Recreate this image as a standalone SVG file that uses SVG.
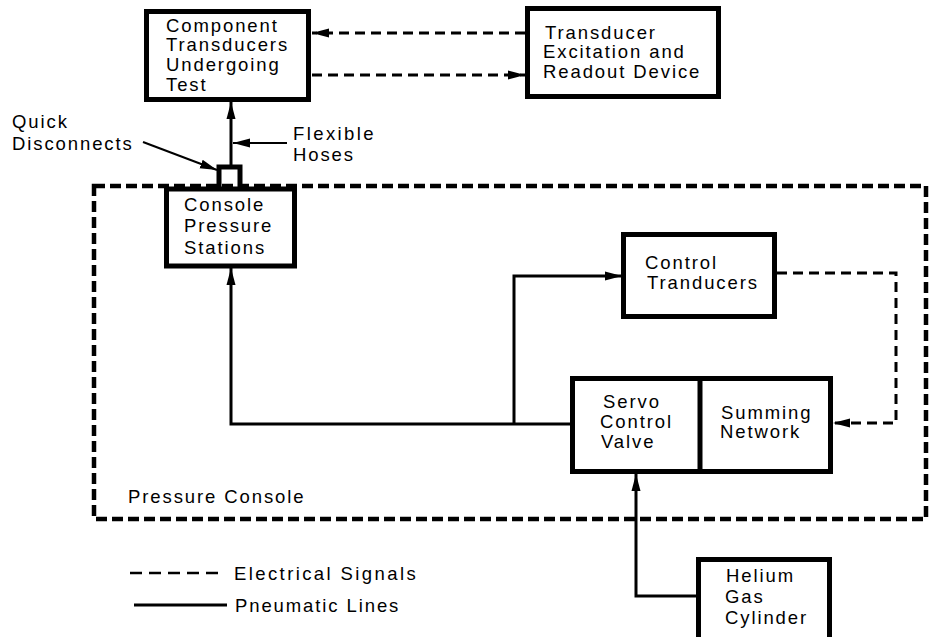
<svg xmlns="http://www.w3.org/2000/svg" width="929" height="637" viewBox="0 0 929 637">
<style>
  .box { fill: #fff; stroke: #000; stroke-width: 5; }
  .t { font-family: "Liberation Sans", Arial, Helvetica, sans-serif; font-size: 18.5px; letter-spacing: 1.9px; fill: #000; }
  .pn { fill: none; stroke: #000; stroke-width: 3; }
  .el { fill: none; stroke: #000; stroke-width: 3; stroke-dasharray: 10 6; }
  .console { fill: none; stroke: #000; stroke-width: 4.5; stroke-dasharray: 11 5; }
</style>
<defs>
  <marker id="arr" markerUnits="userSpaceOnUse" markerWidth="18" markerHeight="10" refX="17" refY="5" orient="auto">
    <path d="M0,0.5 L17,5 L0,9.5 z" fill="#000"/>
  </marker>
</defs>
<rect width="929" height="637" fill="#fff"/>

<g id="pressure-console">
  <rect class="console" x="94" y="186" width="832" height="333"/>
  <text class="t" x="128" y="503">Pressure Console</text>
</g>

<g id="connectors">
  <!-- electrical -->
  <path class="el" d="M525,33 H312" marker-end="url(#arr)"/>
  <path class="el" d="M312,75 H525" marker-end="url(#arr)"/>
  <path class="el" d="M777,273 H896 V423 H833" marker-end="url(#arr)"/>
  <!-- pneumatic -->
  <path class="pn" d="M231,166 V102" marker-end="url(#arr)"/>
  <path class="pn" d="M570,424 H231 V268" marker-end="url(#arr)"/>
  <path class="pn" d="M514,424 V276 H622" marker-end="url(#arr)"/>
  <path class="pn" d="M697,596 H636 V474" marker-end="url(#arr)"/>
  <!-- label pointers -->
  <path fill="none" stroke="#000" stroke-width="2" d="M287,143 H233" marker-end="url(#arr)"/>
  <path fill="none" stroke="#000" stroke-width="2" d="M143,142 L217,170" marker-end="url(#arr)"/>
</g>

<g id="quick-disconnect">
  <path fill="none" stroke="#000" stroke-width="5" d="M219,187 V167 H240 V187"/>
  <text class="t" x="12" y="128">Quick</text>
  <text class="t" x="12" y="150">Disconnects</text>
</g>

<g id="flexible-hoses">
  <text class="t" x="293" y="140" style="letter-spacing:2.4px">Flexible</text>
  <text class="t" x="293" y="161">Hoses</text>
</g>

<g id="component-transducers">
  <rect class="box" x="146.5" y="11.5" width="162" height="88"/>
  <text class="t" x="166" y="32">Component</text>
  <text class="t" x="166" y="51">Transducers</text>
  <text class="t" x="166" y="71">Undergoing</text>
  <text class="t" x="166" y="91">Test</text>
</g>

<g id="excitation-readout">
  <rect class="box" x="527.5" y="8.5" width="191" height="88"/>
  <text class="t" x="545" y="39">Transducer</text>
  <text class="t" x="543" y="58">Excitation and</text>
  <text class="t" x="543" y="78">Readout Device</text>
</g>

<g id="console-pressure-stations">
  <rect class="box" x="166.5" y="189" width="128" height="77"/>
  <text class="t" x="184" y="211">Console</text>
  <text class="t" x="184" y="232">Pressure</text>
  <text class="t" x="184" y="254">Stations</text>
</g>

<g id="control-transducers">
  <rect class="box" x="623.5" y="234.5" width="151" height="82"/>
  <text class="t" x="645" y="269">Control</text>
  <text class="t" x="647" y="289">Tranducers</text>
</g>

<g id="servo-summing">
  <rect class="box" x="572.5" y="378.5" width="258" height="93"/>
  <line x1="700" y1="378" x2="700" y2="472" stroke="#000" stroke-width="5"/>
  <text class="t" x="603" y="408">Servo</text>
  <text class="t" x="600" y="428">Control</text>
  <text class="t" x="601" y="448">Valve</text>
  <text class="t" x="721" y="419">Summing</text>
  <text class="t" x="720" y="438">Network</text>
</g>

<g id="helium-cylinder">
  <rect class="box" x="698.5" y="559.5" width="131" height="82"/>
  <text class="t" x="726" y="582">Helium</text>
  <text class="t" x="725" y="603">Gas</text>
  <text class="t" x="725" y="624">Cylinder</text>
</g>

<g id="legend">
  <line x1="130" y1="573" x2="222" y2="573" stroke="#000" stroke-width="2.5" stroke-dasharray="12 7"/>
  <text class="t" x="234" y="580" style="letter-spacing:2.4px">Electrical Signals</text>
  <line x1="134" y1="605" x2="227" y2="605" stroke="#000" stroke-width="3"/>
  <text class="t" x="235" y="612">Pneumatic Lines</text>
</g>
</svg>
